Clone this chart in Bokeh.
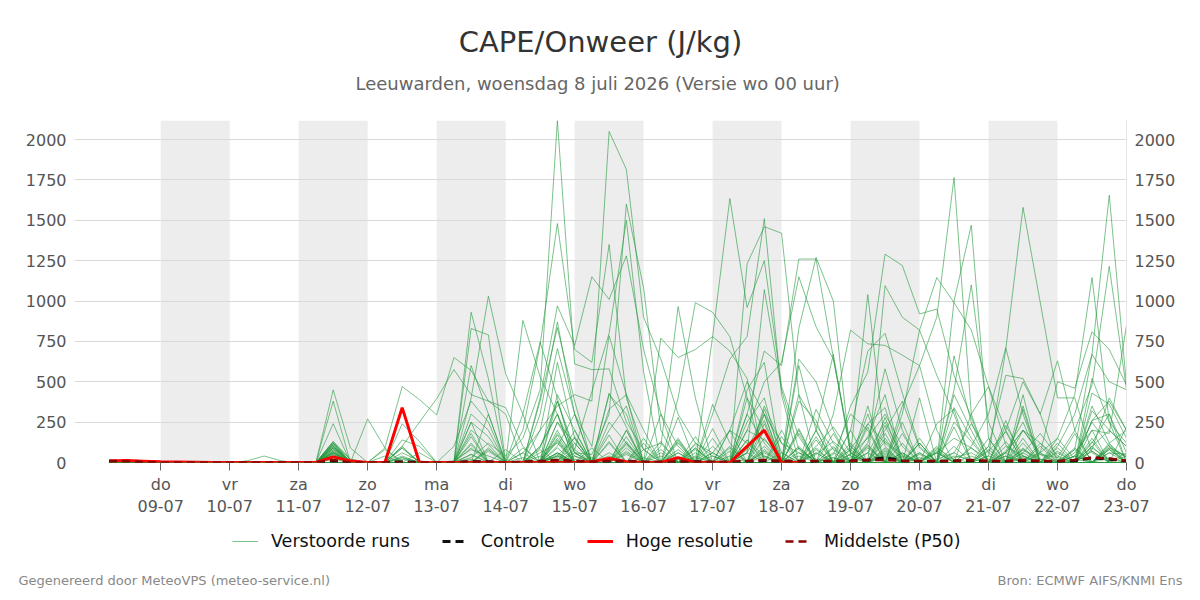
import numpy as np
import pandas as pd
from bokeh.plotting import figure
from bokeh.layouts import column
from bokeh.models import (BoxAnnotation, FixedTicker, LinearAxis, Range1d,
                          Legend, LegendItem, Label)
from bokeh.embed import file_html
from bokeh.resources import INLINE

FONT = "DejaVu Sans"

# ---------------------------------------------------------------------------
# Forecast data: CAPE (J/kg), 6-hourly steps starting 08-07 06:00
# ---------------------------------------------------------------------------
run_start = "2026-07-08 06:00"

run_01 = [5,8,0,0,0,0,0,0,0,0, 0,0,0,120,20,0,0,60,10,0, 0,30,120,40,150,450,2118,610,575,580, 250,80,120,0,40,0,0,80,300,120, 60,20,0,80,240,120,30,0,60,150, 90,20,0,60,180,40,0,120,300,60]
run_02 = [10,12,5,0,0,0,0,0,0,0, 0,0,0,90,10,0,0,40,0,0, 0,10,0,0,60,200,350,420,380,2050, 1815,900,640,300,120,60,0,200,140,30, 0,100,220,60,0,130,50,0,20,60, 240,60,0,80,20,0,40,250,100,30]
run_03 = [0,5,0,0,0,0,0,0,0,0, 0,0,0,60,0,0,0,20,0,0, 10,80,40,0,200,730,1480,700,620,1350, 400,80,0,20,0,60,200,120,30,0, 0,50,130,40,10,200,380,90,0,40, 20,0,60,200,120,30,0,80,400,200]
run_04 = [0,0,0,0,0,0,0,0,0,0, 0,0,0,110,0,0,0,90,0,0, 0,0,0,0,0,100,300,60,50,300, 1600,1080,200,0,120,40,0,60,1070,450, 80,0,50,300,200,0,0,120,0,30, 60,0,100,40,0,150,20,0,60,50]
run_05 = [0,0,0,0,0,0,0,0,0,0, 0,0,0,80,0,0,0,0,0,0, 0,250,160,0,0,90,380,80,440,800, 1500,560,0,30,0,300,640,780,1510,420, 0,0,0,50,150,300,100,0,0,0, 40,0,0,30,0,0,0,100,200,100]
run_06 = [0,0,0,0,0,0,0,0,0,0, 0,0,0,40,0,0,0,0,0,0, 0,50,0,0,0,0,100,300,0,170, 0,0,300,100,0,780,1635,960,1250,470, 160,0,30,0,60,250,40,0,90,20, 0,0,230,40,0,0,10,90,20,0]
run_07 = [0,0,0,0,0,0,0,0,0,0, 0,0,0,130,20,0,0,0,0,0, 0,600,300,0,0,0,40,0,0,0, 90,0,0,0,160,0,0,1230,1460,1420, 420,230,80,0,0,30,0,60,0,0, 0,70,190,0,0,20,0,0,110,30]
run_08 = [0,0,0,0,0,0,0,0,0,0, 0,0,0,30,0,0,0,0,0,0, 0,0,0,0,0,0,180,40,0,0, 60,0,0,0,0,0,0,300,690,600, 1260,1260,650,60,0,0,40,0,0,0, 0,0,60,0,0,0,0,130,0,0]
run_09 = [0,0,0,0,0,0,0,0,0,0, 0,0,0,100,0,0,0,100,0,0, 0,0,0,0,0,0,30,0,0,0, 0,0,0,0,0,0,200,500,300,0, 830,1270,1000,40,0,0,0,20,60,0, 0,0,40,0,0,0,90,0,0,0]
run_10 = [0,0,0,0,0,0,0,0,0,0, 0,0,0,60,0,0,0,0,0,0, 0,0,0,0,30,0,0,0,0,0, 0,30,0,0,0,0,40,0,0,0, 40,0,0,350,560,1290,1220,920,950,540, 280,0,0,40,0,0,0,0,0,0]
run_11 = [0,0,0,0,0,0,0,0,0,0, 0,0,0,0,0,0,0,0,0,0, 0,0,0,0,0,0,0,20,0,0, 0,0,0,0,0,0,0,0,60,0, 0,0,0,200,0,1095,900,820,1145,990, 820,470,110,0,20,0,0,0,90,40]
run_12 = [0,0,0,0,0,0,0,0,0,0, 0,0,0,50,0,0,0,0,0,0, 0,0,0,0,0,0,0,0,90,0, 0,150,0,0,0,0,0,0,0,0, 0,0,30,0,60,0,350,600,900,1765, 300,0,60,200,50,0,0,70,0,0]
run_13 = [0,0,0,0,0,0,0,0,0,0, 0,0,0,0,0,0,0,0,0,0, 0,0,0,0,0,0,40,0,0,0, 120,0,0,0,0,0,90,0,0,0, 180,0,0,0,0,230,0,400,0,1000, 1470,150,0,0,0,0,80,0,0,0]
run_14 = [0,0,0,0,0,0,0,0,0,0, 0,0,0,90,0,0,0,0,0,0, 0,0,70,0,0,0,0,160,0,0, 0,0,0,0,90,0,0,0,240,0, 0,0,0,80,0,0,120,0,0,450, 1100,250,0,0,0,0,0,0,80,0]
run_15 = [0,0,0,0,0,0,0,0,0,0, 0,0,0,50,0,0,0,0,0,0, 0,90,0,0,0,0,60,0,0,0, 130,0,0,0,0,0,0,100,0,0, 0,160,0,0,0,70,0,0,0,0, 0,40,700,1580,990,400,400,60,0,0]
run_16 = [0,0,0,0,0,0,0,0,0,0, 0,0,0,70,0,0,0,30,0,0, 0,0,0,0,0,60,120,0,0,40, 0,0,80,0,0,0,0,140,40,0, 0,60,0,0,110,0,0,30,0,0, 0,0,40,0,0,100,300,670,1655,480]
run_17 = [0,0,0,0,0,0,0,0,0,0, 0,0,0,0,0,0,0,0,0,0, 0,0,90,0,0,0,250,60,0,30, 0,120,0,0,30,0,0,60,0,0, 200,0,0,30,0,0,0,0,60,0, 0,0,0,20,60,150,420,1145,250,0]
run_18 = [0,0,0,0,0,0,0,0,0,0, 0,0,0,120,0,0,0,240,130,0, 0,0,0,0,0,40,0,0,0,130, 0,0,0,60,0,0,0,0,330,60, 0,0,0,0,0,0,180,0,0,0, 0,0,0,0,50,30,200,480,1215,450]
run_19 = [0,0,0,0,0,0,0,0,0,0, 0,0,0,40,0,0,0,0,0,0, 0,20,0,0,0,0,60,0,0,0, 0,0,0,0,0,60,0,0,0,0, 90,0,0,0,0,40,0,0,0,0, 0,40,0,0,100,0,60,200,180,850]
run_20 = [0,0,0,0,0,0,0,0,0,0, 0,0,0,100,0,0,90,470,390,295, 650,570,380,300,0,0,50,0,0,0, 0,0,40,0,0,0,0,0,100,0, 0,0,0,0,0,0,0,60,0,0, 0,0,0,0,0,90,0,0,0,0]
run_21 = [0,0,0,0,0,0,0,0,0,0, 0,0,0,450,90,0,0,100,250,395, 575,420,380,340,100,0,0,40,0,0, 0,0,0,0,0,0,0,0,0,0, 0,60,0,0,0,0,0,0,80,0, 0,0,0,0,0,0,0,0,30,0]
run_22 = [0,0,0,0,0,0,0,0,0,0, 0,0,0,380,0,0,0,0,0,0, 0,930,520,0,0,0,0,0,30,0, 0,0,0,0,60,0,0,0,0,0, 0,0,0,0,0,0,0,120,0,0, 0,0,0,0,0,0,40,0,0,0]
run_23 = [0,0,0,0,0,0,0,0,0,0, 0,0,0,240,0,270,90,0,0,0, 0,830,790,0,0,0,170,0,0,0, 200,0,0,0,0,0,0,0,40,0, 0,0,0,0,0,80,0,0,0,0, 0,0,0,0,0,0,0,0,0,60]
run_24 = [0,0,0,0,0,0,0,0,0,0, 0,0,0,130,0,0,0,0,0,0, 0,400,1030,550,300,0,0,0,0,0, 0,0,0,80,0,0,0,0,0,0, 0,0,0,0,0,50,0,0,0,0, 0,0,0,0,0,0,0,0,100,0]
run_25 = [0,0,0,0,0,0,0,0,0,0, 0,0,0,120,0,0,0,0,0,0, 0,0,0,0,880,530,300,0,0,0, 0,0,60,0,0,0,0,0,0,0, 0,0,90,0,0,0,0,0,0,0, 0,0,0,0,0,0,0,150,0,0]
run_26 = [0,0,0,0,0,0,0,0,0,0, 0,0,0,60,0,0,0,0,0,0, 0,0,0,0,0,0,0,200,0,0, 0,0,770,650,700,780,690,520,0,0, 100,0,0,0,220,0,0,0,0,60, 0,0,0,120,0,0,0,0,90,0]
run_27 = [0,0,0,0,0,0,0,0,0,0, 0,0,0,80,0,0,0,0,0,0, 0,0,0,0,0,0,90,0,0,0, 0,0,100,965,400,0,0,0,0,0, 0,0,60,0,0,0,0,0,0,0, 0,100,0,0,0,0,0,0,0,0]
run_28 = [0,0,0,0,0,0,0,0,0,0, 0,0,0,70,0,0,0,0,0,0, 0,110,0,0,0,0,150,0,0,0, 0,0,0,400,990,930,780,400,0,0, 0,90,0,0,0,150,0,0,0,0, 0,0,0,80,0,0,0,0,120,0]
run_29 = [0,0,0,0,0,0,0,0,0,0, 0,0,0,60,0,0,0,0,0,0, 0,0,300,0,0,400,970,725,1150,1010, 1280,700,300,0,0,0,0,0,200,0, 0,0,0,0,0,90,0,0,0,0, 0,0,0,60,0,0,0,0,0,0]
run_30 = [0,0,0,0,0,0,0,0,0,0, 0,0,0,90,0,0,0,0,0,0, 0,0,0,0,0,300,870,300,100,785, 420,0,0,150,0,0,0,0,0,0, 60,0,0,0,90,0,0,0,0,0, 0,0,130,0,0,0,0,0,80,0]
run_31 = [0,0,0,0,0,0,0,0,0,0, 0,0,0,110,0,0,0,0,0,0, 0,0,0,0,0,380,835,380,0,0, 0,0,0,0,0,210,0,0,0,60, 0,0,180,0,0,0,0,0,0,100, 0,0,0,0,0,0,40,0,0,0]
run_32 = [0,0,0,0,0,0,0,0,0,0, 0,0,0,100,0,0,0,0,0,0, 0,0,0,0,0,200,705,300,0,0, 0,80,0,0,0,0,0,140,0,0, 0,200,0,0,0,0,60,0,0,0, 0,150,0,0,0,0,0,70,0,0]
run_33 = [0,0,0,0,0,0,0,0,0,0, 0,0,0,60,0,0,0,0,0,0, 0,0,0,0,0,0,0,80,0,0, 0,0,0,0,0,0,0,200,500,620, 1150,840,640,100,0,0,0,0,70,0, 0,0,0,0,0,120,0,0,0,40]
run_34 = [0,0,0,0,0,0,0,0,0,0, 0,0,0,40,0,0,0,30,0,0, 0,0,0,0,60,0,0,120,0,0, 0,0,0,0,0,100,0,0,0,0, 0,0,300,820,735,725,665,600,200,0, 0,0,0,90,0,0,0,0,0,0]
run_35 = [0,0,0,0,0,0,0,0,0,0, 0,0,0,20,0,0,0,0,0,0, 0,0,0,0,0,0,200,0,0,0, 0,0,0,0,0,0,0,0,0,200, 0,0,0,50,1040,100,0,0,0,0, 0,0,0,0,120,0,0,0,60,0]
run_36 = [0,0,0,0,0,0,0,0,0,0, 0,0,0,0,0,0,0,0,0,0, 0,160,0,0,0,0,0,60,0,0, 0,0,130,0,0,0,0,300,120,0, 0,0,0,200,690,800,430,100,0,0, 0,80,0,0,0,0,180,0,0,0]
run_37 = [0,0,0,0,0,0,0,0,0,0, 0,0,0,0,0,0,0,0,0,0, 0,0,80,0,0,0,130,0,0,0, 70,0,0,0,0,40,0,0,0,0, 0,200,670,60,0,0,0,150,0,0, 0,0,260,0,0,0,0,100,0,0]
run_38 = [0,0,0,0,0,0,0,0,0,0, 0,0,0,0,0,0,0,0,0,0, 0,50,0,0,0,0,0,0,0,120, 0,0,0,0,90,0,0,0,0,160, 0,0,0,0,0,0,300,820,540,300, 0,0,0,0,0,70,0,0,0,0]
run_39 = [0,0,0,0,0,0,0,0,0,0, 0,0,0,0,0,0,0,0,0,0, 0,0,0,80,0,0,60,0,0,0, 110,0,0,0,0,0,0,0,70,0, 0,0,0,120,0,0,0,0,0,0, 100,300,710,300,0,0,0,0,0,0]
run_40 = [0,0,0,0,0,0,0,0,0,0, 0,0,0,0,0,0,0,0,0,0, 0,0,0,0,0,0,40,150,0,0, 0,0,0,0,0,0,70,0,0,0, 90,0,0,0,0,0,0,0,0,0, 0,100,540,520,300,630,200,0,0,0]
run_41 = [0,0,0,0,0,0,0,0,0,0, 0,0,0,0,0,0,0,0,0,0, 0,0,0,0,0,0,0,0,0,0, 0,0,0,60,0,0,0,0,150,0, 0,0,0,0,100,0,0,0,0,0, 0,0,0,0,60,500,460,810,700,480]
run_42 = [0,0,0,0,0,0,0,0,0,0, 0,0,0,0,0,0,0,0,0,0, 0,0,0,0,0,80,0,0,0,0, 50,0,0,0,0,0,100,0,0,0, 0,140,0,0,0,60,0,0,0,0, 90,0,0,0,0,0,80,670,500,450]
run_43 = [0,0,0,0,0,0,0,0,0,0, 0,0,0,0,0,0,0,0,0,0, 0,0,0,0,90,0,0,0,0,0, 160,0,0,0,0,0,0,0,80,0, 0,0,0,100,0,0,60,0,0,0, 300,470,200,0,0,0,0,200,0,0]
run_44 = [0,0,0,0,0,0,0,0,0,0, 0,0,0,0,0,0,0,0,0,0, 0,0,0,0,300,745,400,0,0,60, 0,0,0,140,0,0,0,0,0,0, 210,0,0,0,300,0,0,0,100,0, 0,0,0,150,0,0,0,0,0,220]
run_45 = [0,0,0,0,0,0,0,0,10,40, 10,0,0,0,0,0,0,0,0,0, 0,200,110,0,0,0,250,120,0,0, 200,0,0,120,0,0,0,60,260,0, 0,330,120,0,0,180,0,0,0,250, 130,0,0,200,60,0,0,260,300,0]
run_46 = [0,0,0,0,0,0,0,0,0,0, 0,0,0,0,0,0,0,140,100,0, 0,120,0,0,0,100,300,0,0,200, 350,0,0,130,0,0,200,0,350,120, 0,80,0,0,160,420,0,50,0,220, 0,0,0,330,0,0,0,350,120,200]
run_47 = [0,0,0,0,0,0,0,0,0,0, 0,0,0,0,0,0,80,0,0,0, 0,300,200,0,0,0,140,0,0,250, 120,0,0,0,80,0,0,250,400,0, 600,200,0,0,350,0,250,0,0,660, 250,0,0,420,0,0,0,520,250,120]
run_48 = [0,0,0,0,0,0,0,0,0,0, 0,0,0,0,0,0,0,0,60,0, 100,380,250,0,0,0,420,200,0,420, 300,0,0,280,0,150,0,400,200,0, 420,0,100,0,0,280,0,0,240,330, 0,0,200,500,300,0,0,260,380,200]
run_49 = [0,0,0,0,0,0,0,0,0,0, 0,0,0,0,0,0,0,90,0,0, 0,250,0,0,0,0,620,150,0,330, 420,200,0,0,0,360,120,0,300,0, 640,500,200,0,120,580,200,0,0,420, 200,0,0,350,0,0,0,430,360,150]
run_50 = [0,0,0,0,0,0,0,0,0,0, 0,0,0,0,0,0,40,0,0,0, 0,180,0,0,0,0,380,60,0,430, 220,0,0,0,110,0,0,450,620,0, 380,260,0,0,240,340,0,120,0,340, 150,0,70,250,0,60,0,320,200,100]

# Control run, high-resolution run (shorter horizon) and ensemble median
control = [10,10,5,0,0,0,0,0,0,0, 0,0,0,10,0,0,0,5,0,0, 0,5,5,0,0,5,10,5,0,5, 5,0,0,5,5,0,0,5,10,5, 5,5,5,10,15,30,10,5,5,10, 10,5,5,10,5,5,10,30,20,10]
hres = [10,12,8,4,3,2,0,0,0,0, 0,0,0,35,10,0,0,340,0,0, 0,0,0,0,0,0,0,0,5,25, 5,0,0,30,0,0,0,100,200,0, 0]
p50 = [8,8,3,0,0,0,0,0,0,0, 0,0,0,15,0,0,0,0,0,0, 0,5,5,0,5,10,15,10,5,10, 10,5,5,5,5,5,5,10,15,10, 10,10,10,10,15,15,10,10,10,10, 15,10,10,15,10,10,15,30,25,10]

perturbed = [run_01, run_02, run_03, run_04, run_05, run_06, run_07, run_08, run_09, run_10,
             run_11, run_12, run_13, run_14, run_15, run_16, run_17, run_18, run_19, run_20,
             run_21, run_22, run_23, run_24, run_25, run_26, run_27, run_28, run_29, run_30,
             run_31, run_32, run_33, run_34, run_35, run_36, run_37, run_38, run_39, run_40,
             run_41, run_42, run_43, run_44, run_45, run_46, run_47, run_48, run_49, run_50]

# Axis labels
day_names = ["ma", "di", "wo", "do", "vr", "za", "zo"]
tick_days = pd.date_range("2026-07-09", "2026-07-23", freq="D")
shaded_days = ["2026-07-09", "2026-07-11", "2026-07-13", "2026-07-15",
               "2026-07-17", "2026-07-19", "2026-07-21"]
y_ticks = [0, 250, 500, 750, 1000, 1250, 1500, 1750, 2000]

title_text = "CAPE/Onweer (J/kg)"
subtitle_text = "Leeuwarden, woensdag  8 juli 2026 (Versie wo 00 uur)"
credit_left = "Gegenereerd door MeteoVPS (meteo-service.nl)"
credit_right = "Bron: ECMWF AIFS/KNMI Ens"
legend_labels = ["Verstoorde runs", "Controle", "Hoge resolutie", "Middelste (P50)"]

W = 1200
MAIN_H, KEY_H = 520, 80
FRAME_L, FRAME_R, FRAME_T, FRAME_B = 74, 1126, 120, 462
TITLE_BOX_H = 34      # height of the title text panel stacked above the frame
CREDIT_BOX_H = 15     # height of one credit text panel

# series styles, shared by the plot and its key
RUNS_STYLE = dict(line_color="#24993d", line_alpha=0.6, line_width=1)
CTRL_STYLE = dict(line_color="#111111", line_width=3, line_dash="8 5")
HRES_STYLE = dict(line_color="#ff0000", line_width=3)
P50_STYLE = dict(line_color="#8b0000", line_width=2.5, line_dash="8 5")


def ms(ts):
    return (pd.Timestamp(ts) - pd.Timestamp("1970-01-01")) / pd.Timedelta(milliseconds=1)


times = pd.date_range(run_start, periods=len(control), freq="6h")
t = np.array([ms(x) for x in times])
for r in perturbed:
    assert len(r) == len(t)

ymax = max(max(r) for r in perturbed)

# ---------------------------------------------------------------------------
# main chart
# ---------------------------------------------------------------------------
p = figure(width=W, height=MAIN_H, x_axis_type="datetime",
           output_backend="svg", toolbar_location=None, title=None,
           x_range=Range1d(ms("2026-07-07 18:00"), ms("2026-07-23 00:00")),
           y_range=Range1d(0, ymax),
           min_border_left=FRAME_L, min_border_right=W - FRAME_R,
           min_border_top=FRAME_T, min_border_bottom=MAIN_H - FRAME_B)
p.outline_line_color = None
p.background_fill_color = "white"
p.border_fill_color = "white"

# alternating day bands
for d in shaded_days:
    p.add_layout(BoxAnnotation(left=ms(d), right=ms(pd.Timestamp(d) + pd.Timedelta(days=1)),
                               fill_color="#ededed", fill_alpha=1.0, line_color=None,
                               level="image"))

# x axis: Dutch weekday + date
tick_ms = [ms(d) for d in tick_days]
xa = p.xaxis[0]
xa.ticker = FixedTicker(ticks=tick_ms)
xa.major_label_overrides = {v: f"{day_names[d.weekday()]}\n{d:%d-%m}"
                            for v, d in zip(tick_ms, tick_days)}
xa.axis_line_color = None
xa.major_tick_line_color = "#666666"
xa.major_tick_in = 0
xa.major_tick_out = 8
xa.minor_tick_line_color = None
xa.major_label_standoff = 4
xa.major_label_text_font = FONT
xa.major_label_text_font_size = "16px"
xa.major_label_text_color = "#555555"
p.xgrid.grid_line_color = None

ya = p.yaxis[0]
ya.ticker = FixedTicker(ticks=y_ticks)
yr = LinearAxis(ticker=FixedTicker(ticks=y_ticks))
p.add_layout(yr, "right")
for ax in (ya, yr):
    ax.axis_line_color = None
    ax.major_tick_line_color = None
    ax.major_tick_in = 0
    ax.major_tick_out = 0
    ax.minor_tick_line_color = None
    ax.minor_tick_out = 0
    ax.major_label_standoff = 8
    ax.major_label_text_font = FONT
    ax.major_label_text_font_size = "16px"
    ax.major_label_text_color = "#555555"
yr.axis_line_color = "#e6e6e6"
p.ygrid.ticker = FixedTicker(ticks=y_ticks)
p.ygrid.grid_line_color = "#d9d9d9"
p.ygrid.grid_line_width = 1

# series
p.multi_line(xs=[t] * len(perturbed), ys=perturbed, **RUNS_STYLE)
p.line(t, control, **CTRL_STYLE)
p.line(t[:len(hres)], hres, **HRES_STYLE)
p.line(t, p50, **P50_STYLE)

# title block, stacked in the panel above the frame (y measured up from each text panel)
p.add_layout(Label(x=W / 2 - FRAME_L, y=FRAME_T - 41, x_units="screen", y_units="screen",
                   text=title_text, text_align="center", text_baseline="middle",
                   text_font=FONT, text_font_size="29px", text_color="#333333"), "above")
p.add_layout(Label(x=W / 2 - FRAME_L, y=FRAME_T - 83 - TITLE_BOX_H,
                   x_units="screen", y_units="screen",
                   text=subtitle_text, text_align="center", text_baseline="middle",
                   text_font=FONT, text_font_size="18px", text_color="#666666"), "above")

# ---------------------------------------------------------------------------
# key strip below the chart: legend + credits
# ---------------------------------------------------------------------------
KEY_FRAME_B = 560     # page y of the key strip's frame bottom
key = figure(width=W, height=KEY_H, x_range=Range1d(0, 1), y_range=Range1d(0, 1),
             x_axis_type=None, y_axis_type=None, output_backend="svg",
             toolbar_location=None, title=None,
             min_border_left=FRAME_L, min_border_right=W - FRAME_R,
             min_border_top=0, min_border_bottom=MAIN_H + KEY_H - KEY_FRAME_B)
key.outline_line_color = None
key.background_fill_color = "white"
key.border_fill_color = "white"
key.xgrid.grid_line_color = None
key.ygrid.grid_line_color = None

# key swatches: one vertex each, placed outside the strip's visible range so that only
# the legend shows them
key_renderers = [key.line([-1.0], [-1.0], **style)
                 for style in (RUNS_STYLE, CTRL_STYLE, HRES_STYLE, P50_STYLE)]
legend = Legend(items=[LegendItem(label=lab, renderers=[r])
                       for lab, r in zip(legend_labels, key_renderers)],
                orientation="horizontal", location=(232 - FRAME_L, KEY_FRAME_B - 551),
                glyph_width=26, glyph_height=20, label_height=20,
                label_standoff=13, spacing=32, padding=0, margin=0,
                border_line_color=None, background_fill_alpha=0,
                label_text_font=FONT, label_text_font_size="17.5px",
                label_text_color="#111111")
key.add_layout(legend)

key.add_layout(Label(x=18 - FRAME_L, y=KEY_FRAME_B + CREDIT_BOX_H - 580,
                     x_units="screen", y_units="screen",
                     text=credit_left, text_align="left", text_baseline="middle",
                     text_font=FONT, text_font_size="13px", text_color="#888888"), "below")
key.add_layout(Label(x=W - 18 - FRAME_L, y=KEY_FRAME_B + 2 * CREDIT_BOX_H - 580,
                     x_units="screen", y_units="screen",
                     text=credit_right, text_align="right", text_baseline="middle",
                     text_font=FONT, text_font_size="13px", text_color="#888888"), "below")

page = column(p, key, spacing=0)
open("out.html", "w").write(file_html(page, INLINE))
